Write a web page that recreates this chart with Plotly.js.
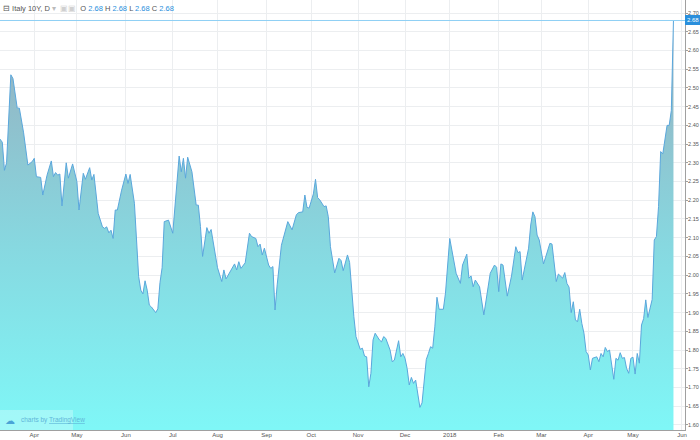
<!DOCTYPE html>
<html>
<head>
<meta charset="utf-8">
<script src="https://cdn.plot.ly/plotly-3.0.1.min.js"></script>
<style>html,body{margin:0;padding:0;background:#fff;}#chart{width:700px;height:440px;}</style>
</head>
<body>
<div id="chart"></div>
<script>
const dates = [
"2017-03-09","2017-03-13","2017-03-14","2017-03-15","2017-03-17","2017-03-20","2017-03-22","2017-03-23","2017-03-27","2017-03-29","2017-03-31",
"2017-04-03","2017-04-04","2017-04-06","2017-04-07","2017-04-11","2017-04-13","2017-04-14","2017-04-17","2017-04-18","2017-04-19","2017-04-20","2017-04-24","2017-04-25","2017-04-27",
"2017-05-01","2017-05-02","2017-05-04","2017-05-05","2017-05-09","2017-05-10","2017-05-11","2017-05-15","2017-05-17","2017-05-18","2017-05-19","2017-05-22","2017-05-23","2017-05-24","2017-05-25","2017-05-26","2017-05-30",
"2017-06-01","2017-06-02","2017-06-05","2017-06-07","2017-06-08","2017-06-09","2017-06-12","2017-06-13","2017-06-14","2017-06-15","2017-06-16","2017-06-19","2017-06-21","2017-06-22","2017-06-23","2017-06-26","2017-06-27","2017-06-29",
"2017-07-03","2017-07-06","2017-07-07","2017-07-10","2017-07-11","2017-07-12","2017-07-14","2017-07-18","2017-07-19","2017-07-20","2017-07-21","2017-07-25","2017-07-26","2017-07-27",
"2017-08-01","2017-08-03","2017-08-04","2017-08-07","2017-08-08","2017-08-11","2017-08-14","2017-08-15","2017-08-16","2017-08-18","2017-08-22","2017-08-23","2017-08-25","2017-08-28","2017-08-29","2017-08-30","2017-08-31",
"2017-09-04","2017-09-05","2017-09-06","2017-09-07","2017-09-08","2017-09-12","2017-09-14","2017-09-15","2017-09-19","2017-09-21","2017-09-22","2017-09-26","2017-09-27","2017-09-28","2017-09-29",
"2017-10-03","2017-10-04","2017-10-05","2017-10-06","2017-10-10","2017-10-11","2017-10-12","2017-10-13","2017-10-17","2017-10-19","2017-10-20","2017-10-23","2017-10-25","2017-10-26","2017-10-27","2017-10-30","2017-10-31",
"2017-11-02","2017-11-03","2017-11-06","2017-11-07","2017-11-08","2017-11-09","2017-11-10","2017-11-13","2017-11-15","2017-11-16","2017-11-17","2017-11-20","2017-11-22","2017-11-23","2017-11-24","2017-11-28","2017-11-29","2017-11-30",
"2017-12-01","2017-12-04","2017-12-05","2017-12-06","2017-12-07","2017-12-08","2017-12-11","2017-12-12","2017-12-13","2017-12-15","2017-12-18","2017-12-19","2017-12-20","2017-12-21","2017-12-22","2017-12-25","2017-12-27","2017-12-28",
"2018-01-01","2018-01-02","2018-01-04","2018-01-08","2018-01-09","2018-01-11","2018-01-12","2018-01-15","2018-01-16","2018-01-17","2018-01-19","2018-01-23","2018-01-24","2018-01-26","2018-01-30","2018-01-31",
"2018-02-01","2018-02-02","2018-02-05","2018-02-07","2018-02-09","2018-02-12","2018-02-13","2018-02-14","2018-02-15","2018-02-16","2018-02-20","2018-02-21","2018-02-22","2018-02-23","2018-02-26","2018-02-27","2018-02-28",
"2018-03-02","2018-03-05","2018-03-07","2018-03-08","2018-03-09","2018-03-12","2018-03-13","2018-03-14","2018-03-15","2018-03-16","2018-03-19","2018-03-20","2018-03-21","2018-03-22","2018-03-23","2018-03-26","2018-03-27","2018-03-28","2018-03-29","2018-03-30",
"2018-04-02","2018-04-03","2018-04-04","2018-04-06","2018-04-09","2018-04-10","2018-04-11","2018-04-12","2018-04-13","2018-04-16","2018-04-18","2018-04-19","2018-04-20","2018-04-23","2018-04-24","2018-04-25","2018-04-26","2018-04-27","2018-04-30",
"2018-05-01","2018-05-02","2018-05-03","2018-05-04","2018-05-07","2018-05-08","2018-05-09","2018-05-10","2018-05-14","2018-05-15","2018-05-16","2018-05-17","2018-05-18","2018-05-21","2018-05-23","2018-05-24","2018-05-25","2018-05-28"
];
const yields = [
2.37,2.355,2.28,2.30,2.535,2.525,2.446,2.446,2.38,2.294,2.303,
2.312,2.263,2.261,2.214,2.267,2.305,2.263,2.274,2.267,2.27,2.185,2.30,2.259,2.297,
2.25,2.174,2.272,2.256,2.287,2.254,2.269,2.165,2.129,2.125,2.129,2.113,2.12,2.098,2.174,2.174,2.227,
2.27,2.245,2.269,2.192,2.094,1.996,1.96,1.95,1.985,1.96,1.92,1.915,1.90,1.91,1.98,2.02,2.143,2.147,
2.112,2.318,2.276,2.312,2.259,2.315,2.276,2.187,2.187,2.13,2.05,2.127,2.112,2.122,
2.02,1.983,2.014,1.99,2.0,2.03,2.014,2.036,2.018,2.033,2.112,2.103,2.098,2.076,2.083,2.054,2.072,
2.027,2.018,2.023,1.907,1.974,2.08,2.121,2.143,2.121,2.161,2.167,2.169,2.214,2.181,2.179,
2.217,2.256,2.207,2.201,2.183,2.185,2.156,2.076,2.006,2.045,2.039,2.012,2.054,2.034,1.952,1.889,1.836,
1.802,1.805,1.784,1.782,1.702,1.738,1.827,1.845,1.827,1.822,1.836,1.831,1.80,1.769,1.773,1.825,1.782,1.791,
1.778,1.751,1.707,1.727,1.711,1.72,1.685,1.647,1.659,1.775,1.791,1.809,1.805,1.862,1.941,1.909,1.909,1.952,
2.098,2.067,2.005,1.978,2.027,2.056,1.992,1.998,1.969,1.987,1.969,1.894,1.934,2.005,2.027,2.021,
1.956,2.03,2.027,1.944,1.998,2.032,2.076,2.06,2.063,1.987,2.04,2.072,2.134,2.169,2.156,2.107,2.094,
2.03,2.048,2.085,2.083,2.032,1.983,2.003,1.998,1.992,2.007,1.978,1.968,1.90,1.929,1.88,1.876,1.909,1.871,1.845,1.796,
1.787,1.747,1.778,1.782,1.769,1.791,1.782,1.807,1.796,1.80,1.722,1.778,1.773,1.793,1.778,1.78,1.751,1.738,1.778,
1.781,1.736,1.791,1.765,1.867,1.884,1.934,1.887,1.935,2.094,2.103,2.183,2.33,2.324,2.40,2.40,2.44,2.68
];
const monthTicks = ["2017-04-03","2017-05-01","2017-06-01","2017-07-03","2017-08-01","2017-09-01","2017-10-02","2017-11-01","2017-12-01","2018-01-01","2018-02-01","2018-03-01","2018-04-02","2018-05-01","2018-06-01"];
const monthLabels = ["Apr","May","Jun","Jul","Aug","Sep","Oct","Nov","Dec","2018","Feb","Mar","Apr","May","Jun"];
const lastPrice = 2.68;
const symbolName = "Italy 10Y, D";

const trace = {
  x: dates, y: yields, type: 'scatter', mode: 'lines',
  line: {color: '#5aa7dc', width: 1},
  fill: 'tozeroy',
  fillgradient: {type: 'vertical', start: 1.59, stop: 2.68,
    colorscale: [[0, '#7ff7f7'], [0.45, '#87d8e0'], [1, '#96adbd']]},
  hoverinfo: 'skip'
};

const blue = '#2a8fdc';
const v = lastPrice.toFixed(2);
const header = "⊟ " + symbolName + " <span style='color:#bbb'>▾</span>  <span style='color:#d0d0d0'>▣▣</span>  O <span style='color:"+blue+"'>"+v+"</span> H <span style='color:"+blue+"'>"+v+"</span> L <span style='color:"+blue+"'>"+v+"</span> C <span style='color:"+blue+"'>"+v+"</span>";

const layout = {
  width: 700, height: 440,
  margin: {l: 0, r: 15, t: 0, b: 10},
  paper_bgcolor: '#ffffff', plot_bgcolor: '#ffffff',
  showlegend: false,
  font: {family: 'Liberation Sans, Arial, sans-serif', color: '#555'},
  xaxis: {
    type: 'date',
    range: ['2017-03-09 22:00', '2018-06-04 10:00'],
    rangebreaks: [{bounds: ['sat', 'mon']}],
    tickmode: 'array', tickvals: monthTicks, ticktext: monthLabels,
    tickfont: {size: 6, color: '#555'},
    showgrid: true, gridcolor: '#eceef0', gridwidth: 1,
    showline: true, linecolor: '#a0a0a0', linewidth: 1,
    ticks: '', ticklabelstandoff: -1,
    zeroline: false, fixedrange: true
  },
  yaxis: {
    side: 'right',
    range: [1.5866, 2.7347],
    tickmode: 'linear', tick0: 1.6, dtick: 0.05, tickformat: '.2f',
    tickfont: {size: 5.5, color: '#555'},
    showgrid: true, gridcolor: '#eceef0', gridwidth: 1,
    showline: true, linecolor: '#a0a0a0', linewidth: 1,
    ticks: 'outside', ticklen: 2, tickcolor: '#a0a0a0', ticklabelstandoff: -1,
    zeroline: false, fixedrange: true
  },
  shapes: [
    {type: 'line', xref: 'paper', x0: 0, x1: 1, yref: 'y', y0: lastPrice, y1: lastPrice,
     line: {color: '#8fd0f4', width: 1}},
    {type: 'rect', xref: 'paper', x0: 0, x1: 73/685, yref: 'paper', y0: 0, y1: 20/430,
     fillcolor: 'rgba(255,255,255,0.28)', line: {width: 0}, layer: 'above'}
  ],
  annotations: [
    {xref: 'paper', yref: 'paper', x: 0, y: (430-8)/430, xanchor: 'left', yanchor: 'middle', xshift: 1,
     text: header, showarrow: false, font: {size: 7.5, color: '#555'}},
    {xref: 'paper', yref: 'y', x: 1, y: lastPrice, xanchor: 'left', yanchor: 'middle',
     text: v, showarrow: false, bgcolor: blue, bordercolor: blue, borderpad: 1,
     font: {size: 6, color: '#ffffff'}},
    {xref: 'paper', yref: 'paper', x: 10/685, y: 10/430, xanchor: 'center', yanchor: 'middle',
     text: '☁', showarrow: false, font: {size: 10, color: '#4aa3d6'}},
    {xref: 'paper', yref: 'paper', x: 19/685, y: 10/430, xanchor: 'left', yanchor: 'middle',
     text: "charts by <u>TradingView</u>", showarrow: false, font: {size: 6.5, color: '#5fb6d8'}}
  ]
};

Plotly.newPlot('chart', [trace], layout, {staticPlot: true, displayModeBar: false});
</script>
</body>
</html>
